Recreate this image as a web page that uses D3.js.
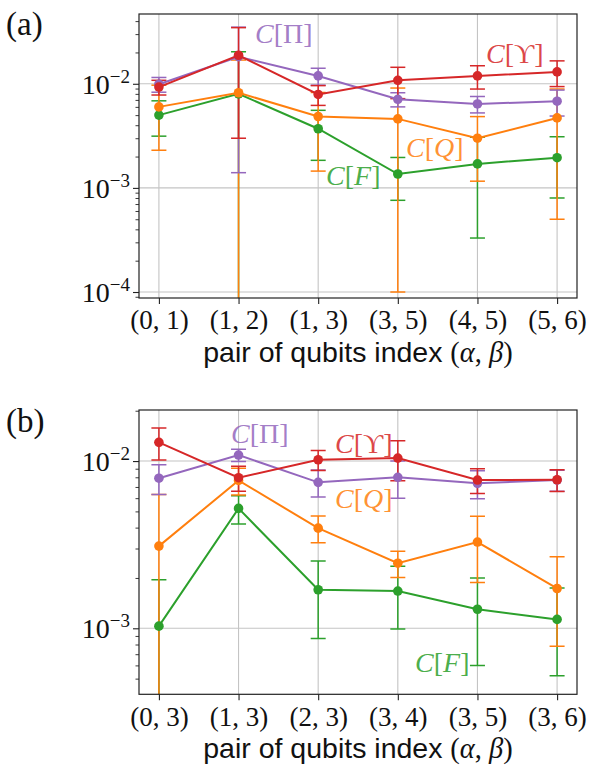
<!DOCTYPE html>
<html>
<head>
<meta charset="utf-8">
<script src="https://cdn.jsdelivr.net/npm/d3@7"></script>
<style>
  body { margin: 0; background: #fff; }
  svg { display: block; }
</style>
</head>
<body>
<script>
// ---- data: qubit pairs per panel ----
const pairsA = ["(0, 1)", "(1, 2)", "(1, 3)", "(3, 5)", "(4, 5)", "(5, 6)"];
const pairsB = ["(0, 3)", "(1, 3)", "(2, 3)", "(3, 4)", "(3, 5)", "(3, 6)"];

// panel (a): values and symmetric standard deviations
const piA      = [0.0099, 0.0182, 0.0119, 0.0071, 0.0064, 0.0068];
const piErrA   = [0.0016, 0.0168, 0.0022, 0.0011, 0.00115, 0.0019];
const upsA     = [0.0093, 0.0188, 0.0079, 0.0108, 0.0119, 0.0130];
const upsErrA  = [0.0015, 0.0158, 0.0017, 0.0036, 0.0030, 0.0036];
const qA       = [0.0060, 0.0082, 0.00485, 0.0046, 0.0030, 0.0047];
const qErrA    = [0.0037, 0.0087, 0.0034, 0.0045, 0.00184, 0.0042];
const fA       = [0.0050, 0.0080, 0.0037, 0.00136, 0.0017, 0.00195];
const fErrA    = [0.00186, 0.0123, 0.00186, 0.0006, 0.00137, 0.00115];

// panel (b)
const piB      = [0.0079, 0.01086, 0.00746, 0.0080, 0.00736, 0.0077];
const piErrB   = [0.0016, 0.00092, 0.00137, 0.0020, 0.0014, 0.0011];
const upsB     = [0.01294, 0.00795, 0.01018, 0.01042, 0.0077, 0.00773];
const upsErrB  = [0.0028, 0.00135, 0.0014, 0.0028, 0.0013, 0.00115];
const qB       = [0.0031, 0.00766, 0.00397, 0.00245, 0.00328, 0.00173];
const qErrB    = [0.0032, 0.0014, 0.00072, 0.00044, 0.0014, 0.00095];
const fB       = [0.00103, 0.00521, 0.0017, 0.00167, 0.0013, 0.00113];
const fErrB    = [0.00092, 0.0010, 0.00083, 0.00068, 0.0007, 0.00061];

// y-axis extents and labelled decades
const domainA = [8.76e-5, 0.0468];
const domainB = [4.03e-4, 0.0202];
const decadesA = [-2, -3, -4];
const decadesB = [-2, -3];

const axisTitle = "pair of qubits index ";
const axisTitleMath = ["(", "α", ", ", "β", ")"];

// ---- styling ----
const COL = { pi: "#9467bd", ups: "#d62728", q: "#ff7f0e", f: "#2ca02c" };
const SERIF = "'Liberation Serif', 'DejaVu Serif', serif";
const SANS = "'Liberation Sans', Arial, sans-serif";

const W = 589, H = 767;
const svg = d3.select("body").append("svg").attr("width", W).attr("height", H);

function drawPanel(cfg) {
  const left = 139, right = 577;
  const { top, bottom } = cfg;
  const g = svg.append("g");

  const x = d3.scaleLinear().domain([-0.25, cfg.pairs.length - 0.75]).range([left, right]);
  const y = d3.scaleLog().domain(cfg.domain).range([bottom, top]);
  const idx = d3.range(cfg.pairs.length);

  const clipId = "clip-" + cfg.id;
  svg.append("clipPath").attr("id", clipId)
    .append("rect").attr("x", left).attr("y", top).attr("width", right - left).attr("height", bottom - top);

  // grid
  const grid = g.append("g").attr("stroke", "#c4c4c4").attr("stroke-width", 1.1);
  grid.selectAll(".gx").data(idx).join("line")
    .attr("x1", d => x(d)).attr("x2", d => x(d)).attr("y1", top).attr("y2", bottom);
  grid.selectAll(".gy").data(cfg.decades).join("line")
    .attr("x1", left).attr("x2", right).attr("y1", d => y(Math.pow(10, d))).attr("y2", d => y(Math.pow(10, d)));

  // y axis: major decades with superscript labels, minor ticks at 2..9
  const yAxis = d3.axisLeft(y)
    .tickValues(cfg.decades.map(d => Math.pow(10, d)))
    .tickSize(6).tickPadding(4).tickFormat("");
  const ya = g.append("g").attr("transform", `translate(${left},0)`).call(yAxis);
  ya.select(".domain").remove();
  ya.selectAll(".tick line").attr("stroke", "#222").attr("stroke-width", 1.1);

  const [lo, hi] = cfg.domain;
  const minors = [];
  for (let e = Math.floor(Math.log10(lo)); e <= Math.ceil(Math.log10(hi)); e++) {
    for (let k = 2; k <= 9; k++) {
      const v = k * Math.pow(10, e);
      if (v >= lo && v <= hi) minors.push(v);
    }
  }
  const yMinor = d3.axisLeft(y).tickValues(minors).tickSize(3.5).tickFormat("");
  const ym = g.append("g").attr("transform", `translate(${left},0)`).call(yMinor);
  ym.select(".domain").remove();
  ym.selectAll(".tick line").attr("stroke", "#222").attr("stroke-width", 0.9);

  cfg.decades.forEach(d => {
    const t = g.append("text")
      .attr("x", left - 9).attr("y", y(Math.pow(10, d)) + 10)
      .attr("text-anchor", "end").attr("font-family", SERIF).attr("fill", "#111");
    t.append("tspan").attr("font-size", 28).text("10");
    t.append("tspan").attr("font-size", 19).attr("dy", -11).text("\u2212" + Math.abs(d));
  });

  // x axis
  const xAxis = d3.axisBottom(x).tickValues(idx).tickSize(6).tickPadding(6)
    .tickFormat(i => cfg.pairs[i]);
  const xa = g.append("g").attr("transform", `translate(0,${bottom})`).call(xAxis);
  xa.select(".domain").remove();
  xa.selectAll(".tick line").attr("stroke", "#222").attr("stroke-width", 1.1);
  xa.selectAll(".tick text")
    .attr("font-family", SERIF).attr("font-size", 27).attr("fill", "#111")
    .attr("dy", "0.72em");

  // axis title
  const xt = g.append("text")
    .attr("x", (left + right) / 2).attr("y", bottom + 64)
    .attr("text-anchor", "middle").attr("fill", "#111");
  xt.append("tspan").attr("font-family", SANS).attr("font-size", 28.5).text(axisTitle);
  axisTitleMath.forEach(s => {
    xt.append("tspan").attr("font-family", SERIF).attr("font-size", 28.5)
      .attr("font-style", (s === "α" || s === "β") ? "italic" : "normal").text(s);
  });

  // error bars (drawn first), then connecting lines and markers
  const data = g.append("g").attr("clip-path", `url(#${clipId})`);
  const capHalf = 7.5;
  cfg.series.forEach(s => {
    const eb = data.append("g").attr("stroke", s.color).attr("stroke-width", 1.5).attr("fill", "none");
    idx.forEach(i => {
      const v = s.vals[i], e = s.errs[i];
      const yU = y(v + e);
      const lower = v - e;
      const yL = lower > 0 ? y(lower) : bottom + 20;
      const xi = x(i);
      eb.append("line").attr("x1", xi).attr("x2", xi).attr("y1", yU).attr("y2", yL);
      eb.append("line").attr("x1", xi - capHalf).attr("x2", xi + capHalf).attr("y1", yU).attr("y2", yU);
      if (lower > 0) {
        eb.append("line").attr("x1", xi - capHalf).attr("x2", xi + capHalf).attr("y1", yL).attr("y2", yL);
      }
    });
  });
  cfg.series.forEach(s => {
    const line = d3.line().x(i => x(i)).y(i => y(s.vals[i]));
    data.append("path").datum(idx).attr("d", line)
      .attr("fill", "none").attr("stroke", s.color).attr("stroke-width", 2);
    data.append("g").selectAll("circle").data(idx).join("circle")
      .attr("cx", i => x(i)).attr("cy", i => y(s.vals[i])).attr("r", 4.8)
      .attr("fill", s.color);
  });

  // frame
  g.append("rect").attr("x", left).attr("y", top).attr("width", right - left).attr("height", bottom - top)
    .attr("fill", "none").attr("stroke", "#222").attr("stroke-width", 1.2);

  // series labels
  cfg.labels.forEach(l => {
    const t = g.append("text").attr("x", l.x).attr("y", l.y)
      .attr("font-family", SERIF).attr("font-size", 28)
      .attr("fill", l.color).attr("fill-opacity", 0.85);
    t.append("tspan").attr("font-style", "italic").text("C");
    t.append("tspan").text("[");
    t.append("tspan").attr("font-style", l.italic ? "italic" : "normal").text(l.sym);
    t.append("tspan").text("]");
  });

  // panel letter
  svg.append("text").attr("x", 6).attr("y", cfg.letterY)
    .attr("font-family", SERIF).attr("font-size", 33).attr("fill", "#111").text(cfg.letter);
}

drawPanel({
  id: "a", letter: "(a)", letterY: 35, top: 14, bottom: 298,
  pairs: pairsA, domain: domainA, decades: decadesA,
  series: [
    { vals: fA, errs: fErrA, color: COL.f },
    { vals: qA, errs: qErrA, color: COL.q },
    { vals: piA, errs: piErrA, color: COL.pi },
    { vals: upsA, errs: upsErrA, color: COL.ups }
  ],
  labels: [
    { sym: "\u03A0", color: COL.pi, x: 255, y: 43 },
    { sym: "\u03D2", color: COL.ups, x: 486, y: 63 },
    { sym: "Q", italic: true, color: COL.q, x: 406, y: 157 },
    { sym: "F", italic: true, color: COL.f, x: 326, y: 185 }
  ]
});

drawPanel({
  id: "b", letter: "(b)", letterY: 432, top: 410, bottom: 694.3,
  pairs: pairsB, domain: domainB, decades: decadesB,
  series: [
    { vals: fB, errs: fErrB, color: COL.f },
    { vals: qB, errs: qErrB, color: COL.q },
    { vals: piB, errs: piErrB, color: COL.pi },
    { vals: upsB, errs: upsErrB, color: COL.ups }
  ],
  labels: [
    { sym: "\u03A0", color: COL.pi, x: 231, y: 443 },
    { sym: "\u03D2", color: COL.ups, x: 335, y: 453 },
    { sym: "Q", italic: true, color: COL.q, x: 335, y: 508 },
    { sym: "F", italic: true, color: COL.f, x: 415, y: 672 }
  ]
});
</script>
</body>
</html>
